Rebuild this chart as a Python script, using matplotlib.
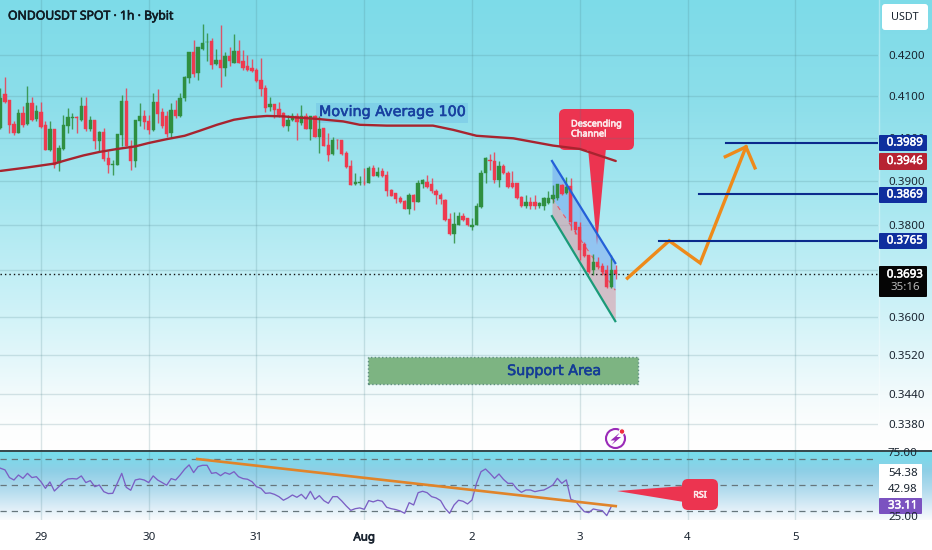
import numpy as np
import matplotlib
matplotlib.use("Agg")
import matplotlib.pyplot as plt
import matplotlib.patheffects as pe
from matplotlib.patches import FancyBboxPatch, Polygon, Circle, Rectangle

plt.rcParams['font.family'] = ['Noto Sans', 'DejaVu Sans']

# hourly candles, hour 0 is the first one on the left
opens = [.4024,.4105,.4090,.4034,.4012,.4059,.4034,.4082,.4045,.4061,
         .4031,.3971,.4021,.3941,.3975,.4029,.4047,.4050,.4043,.4075,
         .4021,.4042,.3992,.4014,.3954,.3937,.3937,.4006,.4089,.3982,
         .3947,.4039,.4051,.4039,.4018,.4086,.4061,.4051,.4012,.4067,
         .4051,.4094,.4143,.4208,.4155,.4216,.4232,.4235,.4178,.4188,
         .4168,.4198,.4180,.4209,.4184,.4172,.4168,.4162,.4138,.4119,
         .4073,.4081,.4068,.4059,.4029,.4043,.4053,.4035,.4051,.4021,
         .4051,.4002,.4023,.3984,.3962,.3995,.3994,.3964,.3935,.3892,
         .3895,.3896,.3896,.3929,.3912,.3922,.3914,.3879,.3872,.3861,
         .3855,.3836,.3868,.3853,.3893,.3898,.3893,.3876,.3868,.3857,
         .3813,.3780,.3800,.3820,.3815,.3796,.3801,.3840,.3918,.3949,
         .3947,.3902,.3935,.3919,.3896,.3896,.3863,.3843,.3853,.3853,
         .3843,.3842,.3850,.3859,.3861,.3891,.3872,.3889,.3807,.3795,
         .3758,.3734,.3700,.3719,.3709,.3700,.3663,.3701]
closes = [.4094,.4086,.4031,.4012,.4059,.4031,.4082,.4043,.4063,.4026,
          .3972,.4021,.3937,.3976,.4031,.4050,.4050,.4047,.4075,.4020,
          .4042,.3992,.4014,.3950,.3937,.3939,.4008,.4089,.3982,.3947,
          .4042,.4051,.4037,.4018,.4086,.4057,.4027,.4008,.4067,.4051,
          .4096,.4146,.4208,.4154,.4219,.4231,.4233,.4176,.4188,.4168,
          .4198,.4184,.4209,.4181,.4168,.4162,.4160,.4135,.4117,.4071,
          .4081,.4067,.4055,.4027,.4043,.4053,.4037,.4051,.4022,.4051,
          .4002,.4022,.3981,.3960,.3995,.3994,.3962,.3932,.3891,.3897,
          .3898,.3895,.3929,.3912,.3920,.3912,.3876,.3866,.3859,.3851,
          .3836,.3868,.3853,.3895,.3901,.3887,.3876,.3868,.3859,.3811,
          .3780,.3802,.3820,.3811,.3800,.3801,.3842,.3919,.3952,.3947,
          .3901,.3935,.3918,.3887,.3887,.3861,.3842,.3851,.3843,.3843,
          .3850,.3860,.3861,.3868,.3893,.3870,.3887,.3807,.3789,.3745,
          .3731,.3696,.3719,.3707,.3696,.3663,.3701,.3693]
highs = [.4119,.4146,.4090,.4039,.4068,.4075,.4123,.4098,.4079,.4086,
         .4039,.4039,.4021,.3984,.4055,.4071,.4059,.4051,.4097,.4097,
         .4051,.4042,.4016,.4024,.3969,.3949,.4008,.4102,.4119,.3996,
         .4042,.4082,.4066,.4055,.4108,.4117,.4071,.4063,.4083,.4091,
         .4106,.4149,.4208,.4237,.4220,.4277,.4255,.4241,.4214,.4275,
         .4208,.4219,.4251,.4237,.4212,.4200,.4190,.4168,.4192,.4127,
         .4097,.4081,.4085,.4061,.4055,.4059,.4058,.4079,.4059,.4051,
         .4055,.4053,.4023,.4011,.4003,.3997,.3995,.3970,.3949,.3918,
         .3912,.3929,.3935,.3937,.3932,.3929,.3922,.3881,.3873,.3866,
         .3857,.3872,.3870,.3902,.3904,.3914,.3906,.3881,.3872,.3859,
         .3826,.3830,.3830,.3826,.3815,.3815,.3850,.3925,.3956,.3962,
         .3966,.3945,.3940,.3922,.3922,.3896,.3865,.3868,.3863,.3868,
         .3851,.3863,.3876,.3891,.3893,.3893,.3910,.3906,.3807,.3807,
         .3763,.3734,.3736,.3730,.3716,.3711,.3734,.3711]
lows = [.4020,.4082,.4012,.4006,.4012,.4026,.4031,.4039,.4039,.4024,
        .3971,.3969,.3930,.3922,.3972,.4012,.4020,.4012,.4039,.4016,
        .4016,.3974,.3969,.3947,.3918,.3914,.3936,.3980,.3980,.3924,
        .3932,.4029,.4021,.4010,.4016,.4035,.4024,.4002,.4002,.4047,
        .4050,.4089,.4131,.4147,.4139,.4212,.4186,.4166,.4176,.4121,
        .4149,.4172,.4180,.4180,.4162,.4160,.4158,.4133,.4100,.4061,
        .4063,.4047,.4050,.4026,.4016,.4039,.3994,.4031,.4021,.3996,
        .4002,.3965,.3980,.3947,.3960,.3973,.3960,.3929,.3891,.3891,
        .3891,.3891,.3895,.3912,.3910,.3909,.3865,.3865,.3850,.3850,
        .3836,.3825,.3834,.3851,.3883,.3883,.3872,.3848,.3848,.3810,
        .3778,.3761,.3800,.3810,.3798,.3789,.3800,.3838,.3895,.3925,
        .3896,.3887,.3917,.3883,.3883,.3859,.3840,.3838,.3836,.3836,
        .3838,.3834,.3848,.3850,.3857,.3868,.3870,.3789,.3781,.3722,
        .3730,.3694,.3689,.3704,.3689,.3661,.3661,.3682]

ma_hours = [0, 6, 12, 15, 18.5, 22, 26, 30, 33, 37, 41, 44.4, 48.2, 52, 55.6, 59.3, 63, 65.1,
            70.5, 76.3, 80, 86, 96.3, 100.8, 106, 114.2, 123, 129, 137]
ma_values = [.3923, .3931, .3940, .3949, .3959, .3967, .3974, .3980, .3988, .3997, .4005,
             .4017, .4031, .4043, .4049, .4052, .4051, .4049, .4045, .4039, .4031, .4029,
             .4029, .4019, .4005, .3999, .3982, .3974, .3946]

rsi = [63.1,61.8,55.8,53.9,57.8,55.2,59.1,55.8,56.5,52.6,
       47.4,52.4,45.3,48.7,52.6,54.7,55.0,54.7,57.1,51.9,
       53.4,48.7,50.0,44.8,43.3,43.5,51.3,59.1,48.2,45.9,
       53.9,54.7,53.9,51.9,57.1,53.9,51.9,49.8,55.0,53.9,
       57.8,62.3,65.7,59.7,64.4,65.4,65.4,59.1,59.7,57.3,
       59.7,58.4,60.4,56.5,55.0,54.5,52.6,48.7,47.4,43.5,
       43.8,42.7,40.9,38.1,39.9,42.2,40.4,42.7,39.1,45.1,
       38.8,41.7,37.8,35.7,40.9,40.9,37.5,33.6,30.2,31.5,
       32.1,31.0,37.8,36.8,38.1,37.3,32.6,31.5,30.8,29.7,
       27.9,36.2,34.4,44.0,45.1,44.0,40.9,39.9,37.8,31.8,
       27.9,34.4,38.1,37.3,35.2,38.3,51.3,60.4,62.5,59.1,
       55.2,58.6,54.4,51.3,51.3,46.9,44.3,46.1,46.1,44.8,
       45.6,46.1,47.9,50.0,55.2,51.3,54.0,38.8,37.5,33.1,
       29.2,28.4,31.3,30.5,30.0,26.1,33.11]

price_ticks = [.42, .41, .40, .39, .38, .37, .36, .352, .344, .338]
price_labels = ["0.4200", "0.4100", "0.4000", "0.3900", "0.3800", "",
                "0.3600", "0.3520", "0.3440", "0.3380"]
day_hours = [9, 33, 57, 81, 105, 129, 153, 177]
day_labels = ["29", "30", "31", "Aug", "2", "3", "4", "5"]
target_prices = [.3989, .3869, .3765]
target_starts = [161.6, 155.6, 146.7]
last_price = .3693

# drawings on the chart
chan_x = [122.8, 136.9]
chan_top = [.3946, .3716]
chan_mid = [.3861, .3657]
chan_bot = [.3820, .3591]
path_x = [139.6, 148.9, 155.8, 166.0]
path_y = [.3683, .3765, .3716, .3979]
head_x = [161.4, 166.0, 168.0]
head_y = [.3956, .3979, .3930]
support_x = [81.9, 142.0]
support_y = [.3461, .3516]
rsi_trend_x = [43.8, 137]
rsi_trend_y = [70.3, 33.5]

W, H = 932, 550
fig = plt.figure(figsize=(W / 100, H / 100), dpi=100, facecolor='white')


def panel(left, top, right, bottom, **kw):
    return fig.add_axes([left / W, 1 - bottom / H, (right - left) / W, (bottom - top) / H], **kw)


def pixel_axes(z):
    a = panel(0, 0, W, H, zorder=z)
    a.set_xlim(0, W)
    a.set_ylim(H, 0)
    a.axis('off')
    a.patch.set_alpha(0)
    return a


# background gradients
bg = pixel_axes(0)


def gradient(y0, y1, stops):
    rows = np.arange(y0, y1)
    ys = [s[0] for s in stops]
    img = np.stack([np.interp(rows, ys, [s[i] for s in stops]) for i in (1, 2, 3)], axis=1) / 255
    bg.imshow(img[:, None, :], extent=(0, W, y1, y0), aspect='auto', interpolation='bilinear')


gradient(0, 451, [(0, 125, 219, 232), (100, 140, 222, 234), (200, 167, 231, 240),
                  (300, 203, 241, 247), (350, 224, 246, 250), (395, 243, 251, 252),
                  (430, 253, 254, 254), (451, 255, 255, 255)])
gradient(452, 520, [(452, 118, 221, 236), (470, 142, 207, 230), (490, 180, 220, 238),
                    (510, 228, 241, 249), (520, 250, 252, 253)])
bg.set_xlim(0, W)
bg.set_ylim(H, 0)
bg.plot([878.5, 878.5], [0, 451], color='white', alpha=0.35, lw=1)

# price panel
ax = panel(0, 0, 878, 451, zorder=1)
ax.patch.set_alpha(0)
ax.set_yscale('log')
ax.set_xlim(-0.11, 195.4)
ax.set_ylim(.42 * np.exp(-396 / 1699), .42 * np.exp(55 / 1699))
ax.set_yticks(price_ticks)
ax.set_yticklabels(price_labels)
ax.minorticks_off()
ax.yaxis.tick_right()
ax.tick_params(axis='y', length=0, pad=7.5, labelsize=8.3, labelcolor='#1a2430')
ax.set_xticks(day_hours)
ax.tick_params(axis='x', length=0, labelbottom=False)
ax.grid(True, color='#4a7f88', alpha=0.2, lw=1)
ax.set_axisbelow(True)
for s in ax.spines.values():
    s.set_visible(False)

ax.fill_between(chan_x, chan_top, chan_mid, color='#6f9ff0', alpha=0.5, lw=0, zorder=1.5)
ax.fill_between(chan_x, chan_mid, chan_bot, color='#dc8f9b', alpha=0.5, lw=0, zorder=1.5)
ax.plot(chan_x, chan_mid, color='#e8596c', lw=0.8, ls=(0, (4, 5)), zorder=1.6)

hours = np.arange(len(opens))
o, c, hi, lo = map(np.array, (opens, closes, highs, lows))
colors = np.where(c >= o, '#2f8f40', '#ee3b50')
ax.vlines(hours, lo, hi, colors=colors, lw=1, alpha=0.85, zorder=2)
ax.bar(hours, np.abs(c - o), bottom=np.minimum(o, c), width=0.74, color=colors,
       edgecolor=colors, lw=0.3, zorder=2.1)

ax.plot(ma_hours, ma_values, color='#a8242f', lw=1.7, zorder=3, solid_capstyle='round')
ax.axhline(last_price, color='#101010', lw=1, ls=(0, (1, 2.2)), zorder=3)

ax.plot(chan_x, chan_top, color='#2460d8', lw=1.6, zorder=4)
ax.plot(chan_x, chan_bot, color='#1a9a78', lw=1.6, zorder=4)
ax.plot(path_x, path_y, color='#ee8a1a', lw=2.4, zorder=4, solid_joinstyle='miter')
ax.plot(head_x, head_y, color='#ee8a1a', lw=2.4, zorder=4, solid_joinstyle='miter')
for p, start in zip(target_prices, target_starts):
    ax.plot([start, 195.4], [p, p], color='#0a2a8c', lw=1.5, zorder=4)

ax.add_patch(Rectangle((support_x[0], support_y[0]), support_x[1] - support_x[0],
                       support_y[1] - support_y[0], facecolor='#7db482', edgecolor='#5f8f80',
                       ls=':', lw=1, zorder=4))

# rsi panel
ax2 = panel(0, 452, 878, 520, zorder=1)
ax2.patch.set_alpha(0)
ax2.set_xlim(ax.get_xlim())
ax2.set_ylim(25 - 3 / 1.28, 25 + 65 / 1.28)
ax2.set_xticks(day_hours)
ax2.set_xticklabels(day_labels, fontsize=8.3, color='#1a2430')
ax2.get_xticklabels()[3].set_path_effects([pe.withStroke(linewidth=0.5, foreground='#1a2430')])
ax2.tick_params(axis='x', length=0, pad=9)
ax2.set_yticks([])
ax2.grid(True, axis='x', color='#4a7f88', alpha=0.2, lw=1)
ax2.set_axisbelow(True)
for s in ax2.spines.values():
    s.set_visible(False)
for level in (70, 50, 30):
    ax2.axhline(level, color='#66767c', lw=0.9, ls=(0, (5, 4)))
ax2.plot(np.arange(len(rsi)), rsi, color='#7b5fc4', lw=0.95)
ax2.plot(rsi_trend_x, rsi_trend_y, color='#e0842a', lw=1.9)

# pixel overlays: the channel callout sits under the price panel, the rest on top
under = pixel_axes(0.9)
ov = pixel_axes(5)
ov.plot([0, W], [451, 451], color='#10262c', lw=1.2)


def box(a, x0, y0, x1, y1, color, r=1.5, **kw):
    a.add_patch(FancyBboxPatch((x0 + r, y0 + r), x1 - x0 - 2 * r, y1 - y0 - 2 * r,
                               boxstyle=f"round,pad={r},rounding_size={r}", fc=color, ec='none', **kw))


def label(a, x, y, s, color='#1a2430', size=8.3, bold=0, ha='center', **kw):
    t = a.text(x, y, s, color=color, fontsize=size, ha=ha, va='center', **kw)
    if bold:
        t.set_path_effects([pe.withStroke(linewidth=bold, foreground=color)])
    return t


label(ov, 8, 16, "ONDOUSDT SPOT · 1h · Bybit", size=8.8, bold=0.45, ha='left', color='#101c24')

box(under, 316, 103, 468, 123, '#4f9fdf', r=0.5, alpha=0.22)
label(ov, 392, 112, "Moving Average 100", color='#1840a0', size=10.3, bold=0.4, family='DejaVu Sans')
label(ov, 554, 371, "Support Area", color='#143c96', size=10.3, bold=0.4, family='DejaVu Sans')

# descending channel callout
red = '#ec3450'
under.add_patch(Polygon([(588, 148), (606, 148), (597, 245)], fc=red, ec='none'))
box(under, 559, 109, 634, 150, red, r=6)
label(under, 571, 124, "Descending", color='#fde8ea', size=6.6, bold=0.45, ha='left')
label(under, 571, 134, "Channel", color='#fde8ea', size=6.6, bold=0.45, ha='left')

# rsi callout
ov.add_patch(Polygon([(617, 491), (684, 486), (684, 502)], fc=red, ec='none'))
box(ov, 682, 479, 718, 510, red, r=6)
label(ov, 700, 495, "RSI", color='#fde8ea', size=6.4, bold=0.45)

# flash icon
ov.add_patch(Circle((615.5, 438.5), 9.5, fc='none', ec='#9a2bb8', lw=1.5))
ov.add_patch(Polygon([(620, 432.5), (610.5, 440.5), (615, 440.5), (611.5, 445), (621, 437), (616.5, 437)],
                     fc='#9a2bb8', ec='none'))
ov.add_patch(Circle((622, 431.5), 2.8, fc='#ee2f3f', ec='white', lw=0.8))

# price scale tags
box(ov, 882, 4, 928, 30, 'white', r=3)
label(ov, 905, 17, "USDT", size=7.8)
tags = [(135, 151, '#0f2f9e', "0.3989"), (153, 170, '#b72332', "0.3946"),
        (187, 203, '#0f2f9e', "0.3869"), (233, 249, '#0f2f9e', "0.3765")]
for y0, y1, col, txt in tags:
    box(ov, 879, y0, 927, y1, col, r=1)
    label(ov, 905, (y0 + y1) / 2, txt, color='white', bold=0.35)
box(ov, 879, 266, 927, 297, '#050505', r=1)
label(ov, 905, 275, "0.3693", color='white', bold=0.35)
label(ov, 905, 288, "35:16", color='#b8b8b8')

# rsi scale tags
t75 = label(ov, 888, 453, "75.00", ha='left')
t75.set_clip_path(Rectangle((878, 452), 54, 20, transform=ov.transData))
label(ov, 888, 517, "25.00", ha='left')
box(ov, 879, 464, 922, 498, 'white', r=0.5)
label(ov, 888, 473, "54.38", ha='left')
label(ov, 888, 489.5, "42.98", ha='left')
box(ov, 879, 498, 922, 514, '#7b52c0', r=1)
label(ov, 888, 506, "33.11", color='white', bold=0.35, ha='left')

fig.savefig("out.png", dpi=100)
